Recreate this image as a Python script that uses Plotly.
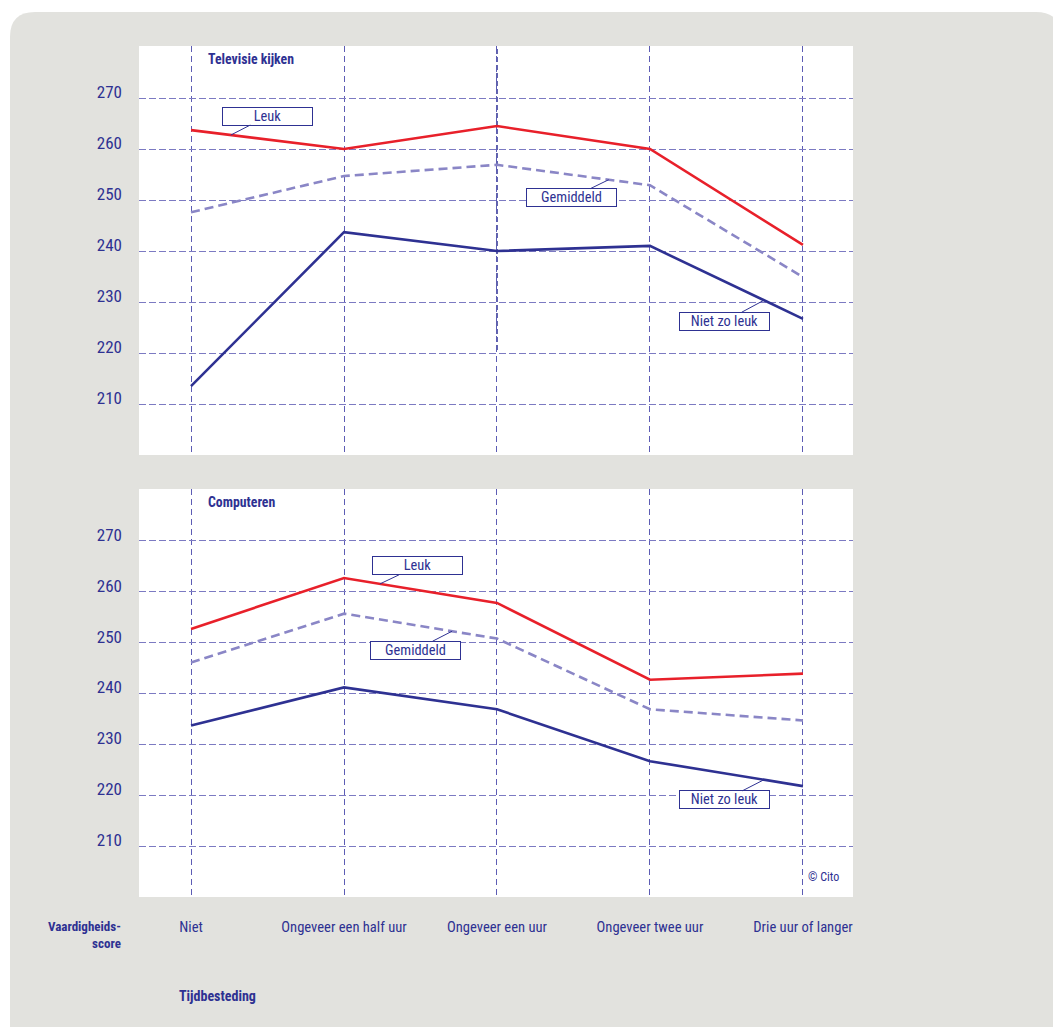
import numpy as np
import plotly.graph_objects as go

# ---------------- data ----------------
categories = ["Niet", "Ongeveer een half uur", "Ongeveer een uur",
              "Ongeveer twee uur", "Drie uur of langer"]
y_ticks = [210, 220, 230, 240, 250, 260, 270]

tv_leuk = [263.7, 260.0, 264.5, 260.0, 241.2]
tv_gemiddeld = [247.6, 254.7, 256.9, 252.9, 234.9]
tv_niet_zo_leuk = [213.5, 243.7, 240.0, 241.0, 226.7]

pc_leuk = [252.7, 262.7, 257.8, 242.7, 243.9]
pc_gemiddeld = [246.1, 255.7, 250.8, 236.9, 234.7]
pc_niet_zo_leuk = [233.7, 241.2, 236.9, 226.7, 221.8]

panel_titles = ["Televisie kijken", "Computeren"]

# ---------------- styles ----------------
NAVY = "#2e3192"
RED = "#e8202a"
LILAC = "#8a86c6"
HGRID = "#7c7ac2"
VGRID = "#5c5cb4"
BG_GRAY = "#e2e2de"
FONT = "Liberation Sans Narrow, Roboto Condensed, Liberation Sans, sans-serif"

W, H = 1061, 1027
OFF = 8  # page body margin


def px(v):
    return (v - OFF) / W


def py(v):
    return 1 - (v - OFF) / H


idx = np.arange(len(categories))

fig = go.Figure()


def add_panel(leuk, gem, niet, xa, ya):
    fig.add_trace(go.Scatter(x=idx, y=gem, mode="lines", xaxis=xa, yaxis=ya,
                             line=dict(color=LILAC, width=2.6, dash="9px,5px"),
                             showlegend=False, hoverinfo="skip"))
    fig.add_trace(go.Scatter(x=idx, y=niet, mode="lines", xaxis=xa, yaxis=ya,
                             line=dict(color=NAVY, width=2.6),
                             showlegend=False, hoverinfo="skip"))
    fig.add_trace(go.Scatter(x=idx, y=leuk, mode="lines", xaxis=xa, yaxis=ya,
                             line=dict(color=RED, width=2.6),
                             showlegend=False, hoverinfo="skip"))


add_panel(tv_leuk, tv_gemiddeld, tv_niet_zo_leuk, "x", "y")
add_panel(pc_leuk, pc_gemiddeld, pc_niet_zo_leuk, "x2", "y2")

xr = [-0.34, 4.327]
yr = [200, 280.2]
top_dom = [py(455), py(46)]
bot_dom = [py(897), py(489)]
x_dom = [px(139), px(853)]

xcommon = dict(range=xr, domain=x_dom, tickvals=idx.tolist(), showgrid=True,
               gridcolor=VGRID, griddash="6px,4px", gridwidth=1,
               zeroline=False, showline=False, ticks="", fixedrange=True)
ycommon = dict(range=yr, tickvals=y_ticks, ticktext=[str(v) for v in y_ticks],
               showgrid=True, gridcolor=HGRID, griddash="7px,3px", gridwidth=1,
               zeroline=False, showline=False, ticks="",
               tickfont=dict(family=FONT, size=17, color=NAVY),
               ticklabelstandoff=16, ticklabelshift=-6, fixedrange=True)

fig.update_layout(
    width=W, height=H,
    margin=dict(l=0, r=0, t=0, b=0),
    paper_bgcolor="white",
    plot_bgcolor="white",
    font=dict(family=FONT, color=NAVY),
    xaxis=dict(**xcommon, anchor="y", showticklabels=False),
    yaxis=dict(**ycommon, domain=top_dom, anchor="x"),
    xaxis2=dict(**xcommon, anchor="y2", ticktext=categories,
                tickfont=dict(family=FONT, size=14.6, color=NAVY),
                ticklabelstandoff=19),
    yaxis2=dict(**ycommon, domain=bot_dom, anchor="x2"),
)

# gray rounded background panel (drawn beneath the white plot areas)
rx, ry = 25 / W, 25 / H
x0, x1 = px(10), px(1061)
y0, y1 = -0.05, py(12)
path = (f"M {x0+rx},{y1} L {x1-rx},{y1} Q {x1},{y1} {x1},{y1-ry} "
        f"L {x1},{y0+ry} Q {x1},{y0} {x1-rx},{y0} L {x0+rx},{y0} "
        f"Q {x0},{y0} {x0},{y0+ry} L {x0},{y1-ry} Q {x0},{y1} {x0+rx},{y1} Z")
fig.add_shape(type="path", path=path, xref="paper", yref="paper",
              fillcolor=BG_GRAY, line=dict(width=0), layer="below")

# white panel backgrounds
for dom in (top_dom, bot_dom):
    fig.add_shape(type="rect", xref="paper", yref="paper",
                  x0=x_dom[0], x1=x_dom[1], y0=dom[0], y1=dom[1],
                  fillcolor="white", line=dict(width=0), layer="below")

# darker vertical line in the top panel
fig.add_shape(type="line", xref="x", yref="y", x0=2, x1=2, y0=220.6, y1=yr[1],
              line=dict(color=NAVY, width=1.5, dash="5px,3px"), layer="below")

# panel titles
for ya, t in zip(["y domain", "y2 domain"], panel_titles):
    fig.add_annotation(text=f"<b>{t}</b>", xref="x", yref=ya, x=0.1, y=0.993,
                       xanchor="left", yanchor="top", showarrow=False,
                       font=dict(family=FONT, size=13.8, color=NAVY))


# callouts
def callout(text, series, tip_x, ax, ay, xa, ya):
    tip_y = float(np.interp(tip_x, idx, series))
    fig.add_annotation(text=text, x=tip_x, y=tip_y, xref=xa, yref=ya,
                       ax=ax, ay=ay, showarrow=True, arrowhead=0,
                       arrowwidth=1, arrowcolor=NAVY, standoff=0,
                       bgcolor="white", bordercolor=NAVY, borderwidth=1,
                       borderpad=1, width=87, height=15,
                       font=dict(family=FONT, size=14.4, color=NAVY))


callout("Leuk", tv_leuk, 0.26, 37, -19, "x", "y")
callout("Gemiddeld", tv_gemiddeld, 2.73, -37, 18, "x", "y")
callout("Niet zo leuk", tv_niet_zo_leuk, 3.745, -39, 21, "x", "y")
callout("Leuk", pc_leuk, 1.235, 38, -18, "x2", "y2")
callout("Gemiddeld", pc_gemiddeld, 1.706, -37, 19, "x2", "y2")
callout("Niet zo leuk", pc_niet_zo_leuk, 3.745, -39, 20, "x2", "y2")

# other text
fig.add_annotation(text="© Cito", xref="paper", yref="paper",
                   x=px(806), y=py(877), xanchor="left", yanchor="middle",
                   showarrow=False, font=dict(family=FONT, size=12, color=NAVY))
fig.add_annotation(text="<b>Vaardigheids-<br>score</b>", xref="paper", yref="paper",
                   x=px(123), y=py(917), xanchor="right", yanchor="top",
                   align="right", showarrow=False,
                   font=dict(family=FONT, size=13, color=NAVY))
fig.add_annotation(text="<b>Tijdbesteding</b>", xref="paper", yref="paper",
                   x=px(177), y=py(996), xanchor="left", yanchor="middle",
                   showarrow=False, font=dict(family=FONT, size=14, color=NAVY))

fig.write_html("out.html")
